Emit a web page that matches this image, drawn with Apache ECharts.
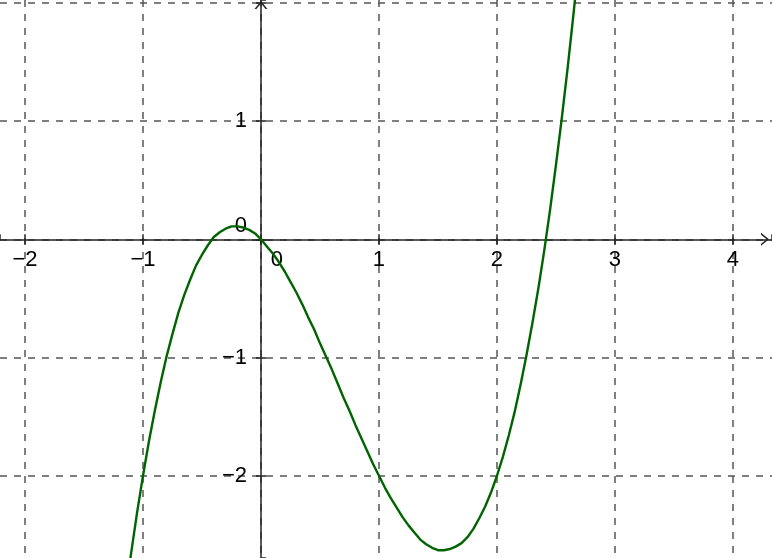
<!DOCTYPE html>
<html><head><meta charset="utf-8">
<script src="https://cdn.jsdelivr.net/npm/echarts@6/dist/echarts.min.js"></script>
<style>html,body{margin:0;padding:0;background:#fff}#c{width:772px;height:558px}</style>
</head><body><div id="c"></div>
<script>
// values
const xs = [-1.15,-1.1,-1.05,-1.0,-0.95,-0.9,-0.85,-0.8,-0.75,-0.7,-0.65,-0.6,-0.55,-0.5,-0.45,-0.4,-0.35,-0.3,-0.25,-0.2,-0.15,-0.1,-0.05,0,
            0.05,0.1,0.15,0.2,0.25,0.3,0.35,0.4,0.45,0.5,0.55,0.6,0.65,0.7,0.75,0.8,0.85,0.9,0.95,1.0,
            1.05,1.1,1.15,1.2,1.25,1.3,1.35,1.4,1.45,1.5,1.55,1.6,1.65,1.7,1.75,1.8,1.85,1.9,1.95,2.0,
            2.05,2.1,2.15,2.2,2.25,2.3,2.35,2.4,2.45,2.5,2.55,2.6,2.65,2.7];
const ys = [-3.02,-2.65,-2.31,-2.0,-1.71,-1.45,-1.21,-0.99,-0.80,-0.62,-0.47,-0.34,-0.22,-0.13,-0.05,0.02,0.06,0.09,0.11,0.11,0.10,0.08,0.05,0,
            -0.06,-0.12,-0.19,-0.27,-0.36,-0.45,-0.55,-0.66,-0.76,-0.88,-0.99,-1.10,-1.22,-1.34,-1.45,-1.57,-1.68,-1.79,-1.90,-2.0,
            -2.10,-2.19,-2.27,-2.35,-2.42,-2.48,-2.54,-2.58,-2.61,-2.63,-2.63,-2.62,-2.60,-2.57,-2.52,-2.45,-2.36,-2.26,-2.14,-2.0,
            -1.84,-1.66,-1.46,-1.23,-0.98,-0.71,-0.42,-0.10,0.25,0.63,1.03,1.46,1.92,2.40];
const xRange = [-2.212, 4.331];
const yRange = [-2.696, 2.025];
const xTickLabels = [-2, -1, 0, 1, 2, 3, 4];
const yTickLabels = [-2, -1, 0, 1];

const chart = echarts.init(document.getElementById('c'), null, {renderer:'canvas'});
const font = 'Liberation Sans, Arial, sans-serif';
const chevron = 'path://M0,8 L6.5,0 L13,8 L11.1,8 L6.5,2.4 L1.9,8 Z';
function makeFmt(list){
  return function(v){
    if (Math.abs(v - Math.round(v)) > 1e-6) return '';
    const r = Math.round(v);
    if (list.indexOf(r) < 0) return '';
    if (r === 0) return '{z|0}';
    return r < 0 ? '\u2212' + Math.abs(r) : String(r);
  };
}
const axisLineStyle = {color:'#222', width:1.5};
const gridLine = {show:true, showMinLine:false, showMaxLine:false, lineStyle:{color:'#555', width:1.5, type:[7,7]}};
const W = 772, H = 558;
function build(ox, oy){
  return {
    animation:false,
    backgroundColor:'#fff',
    grid:{left:0,right:0,top:0,bottom:0,containLabel:false,outerBoundsMode:'none'},
    xAxis:[{
      type:'value', min:xRange[0], max:xRange[1], splitNumber:5, position:'bottom', offset: oy - H,
      axisLine:{show:true,onZero:false,lineStyle:axisLineStyle,symbol:['none',chevron],symbolSize:[13,8],symbolOffset:[0,-7]},
      axisTick:{show:true,length:5,lineStyle:axisLineStyle},
      splitLine:gridLine,
      axisLabel:{margin:10,fontSize:22,fontFamily:font,color:'#000',showMinLabel:false,showMaxLabel:false,
        formatter:makeFmt(xTickLabels),
        rich:{z:{fontSize:22,fontFamily:font,color:'#000',padding:[0,0,0,32]}}}
    },{
      type:'value', min:xRange[0], max:xRange[1], splitNumber:5, position:'top', offset: -oy,
      axisLine:{show:false,onZero:false}, axisTick:{show:true,length:5,lineStyle:axisLineStyle},
      splitLine:{show:false}, axisLabel:{show:false}
    }],
    yAxis:[{
      type:'value', min:yRange[0], max:yRange[1], splitNumber:5, position:'left', offset: -ox,
      axisLine:{show:true,onZero:false,lineStyle:axisLineStyle,symbol:['none',chevron],symbolSize:[13,8],symbolOffset:[0,-5]},
      axisTick:{show:true,length:5,lineStyle:axisLineStyle},
      splitLine:gridLine,
      axisLabel:{margin:14,fontSize:22,fontFamily:font,color:'#000',showMinLabel:false,showMaxLabel:false,
        formatter:makeFmt(yTickLabels),
        rich:{z:{fontSize:22,fontFamily:font,color:'#000',padding:[0,0,26,0]}}}
    },{
      type:'value', min:yRange[0], max:yRange[1], splitNumber:5, position:'right', offset: -(W - ox),
      axisLine:{show:false,onZero:false}, axisTick:{show:true,length:5,lineStyle:axisLineStyle},
      splitLine:{show:false}, axisLabel:{show:false}
    }],
    series:[{
      type:'line', xAxisIndex:0, yAxisIndex:0, data:xs.map((x,i)=>[x,ys[i]]), smooth:false, showSymbol:false,
      lineStyle:{color:'#006400', width:2.4, join:'round'}, clip:true
    }]
  };
}
chart.setOption(build(0, H));
const ox = chart.convertToPixel({xAxisIndex:0}, 0);
const oy = chart.convertToPixel({yAxisIndex:0}, 0);
chart.setOption(build(ox, oy), true);
</script></body></html>
